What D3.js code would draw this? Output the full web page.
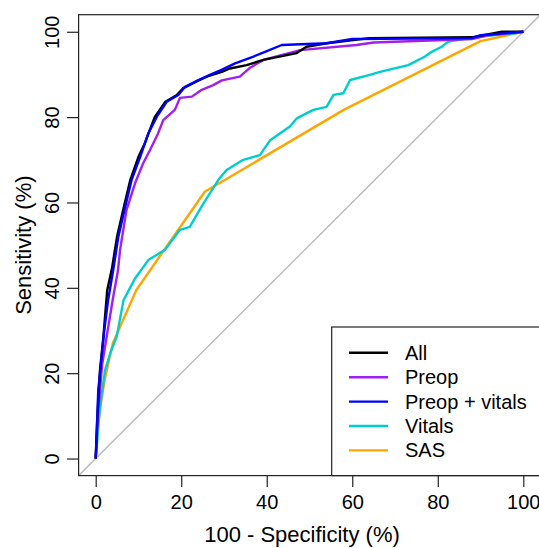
<!DOCTYPE html>
<html>
  <head>
    <meta charset="utf-8">
    <title></title>
    <style>
      body {
        margin: 0;
        background: #fff;
        font-family: "Liberation Sans", Arial, sans-serif;
      }
      svg {
        display: block;
      }
      .tick text, .legend text {
        font-size: 20px;
        fill: #000;
      }
      .lab {
        font-size: 22px;
        fill: #000;
      }
    </style>
  </head>
  <body>
    <div class="chart"></div>
    <script src="https://cdn.jsdelivr.net/npm/d3@7"></script>
    <script>

      // ROC curves, x = 100 - specificity, y = sensitivity
      let allX   = [0, 0.4, 1, 1.8, 2.7, 3.8, 5, 6.6, 8.1, 10, 11.5, 13.8, 16.3, 19, 20.5, 23.5, 26.5, 29.5, 31.4, 35.3, 39.2, 47, 49.3, 54, 64.1, 88, 95, 100];
      let allY   = [0, 10, 20.7, 28.5, 39.5, 44.5, 52, 59, 65.3, 70.7, 73.9, 80, 83.6, 85.2, 86.8, 88.3, 89.7, 90.6, 91.4, 92.2, 93.4, 95, 96.5, 97.3, 98.5, 98.7, 100, 100];

      let preopX = [0, 0.5, 1.5, 2.8, 4.1, 5.2, 5.7, 7.2, 9.2, 11.1, 12.7, 14.5, 15.8, 18.5, 19.7, 22.5, 24.8, 27.5, 29.5, 33.7, 36, 39.2, 47.8, 61, 65, 88, 92, 100];
      let preopY = [0, 10, 22, 30, 37.9, 44, 48.9, 58.2, 64.5, 69.2, 72.3, 76, 79.3, 81.7, 84.5, 84.8, 86.4, 87.5, 88.6, 89.5, 91.5, 93.4, 95.7, 96.9, 97.5, 98.3, 99.2, 100];

      let pvX    = [0, 0.6, 1.2, 2, 2.9, 4.1, 5.3, 6.9, 8.4, 10.4, 12.3, 14.3, 16.6, 19.3, 20.9, 24, 26.7, 29.3, 32.6, 36.9, 39.6, 43.5, 54, 60, 88, 90, 100];
      let pvY    = [0, 16, 22, 30, 37.1, 44.2, 52, 59, 65.3, 70.7, 76.2, 80.1, 83.6, 85.2, 87.1, 88.7, 89.9, 91, 92.6, 94.2, 95.3, 96.9, 97.3, 98.3, 98.5, 99.2, 100];

      let vitX   = [0, 1, 2.2, 3.5, 4.9, 6.5, 9.2, 12.3, 16.2, 19.7, 22, 25.2, 28.7, 30.6, 34.5, 38.4, 40.8, 45.4, 47, 50.9, 54, 55.6, 57.9, 59.5, 64.1, 66.5, 73.1, 77, 78.6, 80.9, 82.5, 89.5, 97.7, 100];
      let vitY   = [0, 12, 20.7, 25, 28.5, 37.1, 42.2, 46.5, 48.9, 53.6, 54.3, 59.8, 65.3, 67.6, 70, 71.1, 74.6, 77.8, 79.7, 81.7, 82.4, 85.2, 85.6, 88.7, 89.9, 90.6, 92.2, 94.2, 95.3, 96.5, 97.7, 98.9, 99.6, 100];

      let sasX   = [0, 0.5, 2, 4, 9.5, 25.5, 58, 90, 100];
      let sasY   = [0, 8, 18, 27, 39.5, 62.5, 81.7, 97.8, 100];

      let seriesNames  = ['All', 'Preop', 'Preop + vitals', 'Vitals', 'SAS'];
      let seriesColors = ['#000000', '#a020f0', '#0000ff', '#00cdcd', '#ffa500'];
      let ticks = [0, 20, 40, 60, 80, 100];

      let curves = [
        d3.zip(allX, allY),
        d3.zip(preopX, preopY),
        d3.zip(pvX, pvY),
        d3.zip(vitX, vitY),
        d3.zip(sasX, sasY)
      ];

      let elWidth = 539, elHeight = 548;
      let svg = d3.select('.chart').append('svg')
        .attr('width', elWidth)
        .attr('height', elHeight);

      // plot region (R style 4% padding around 0..100)
      let x = d3.scaleLinear().domain([-4, 104]).range([78.6, 540.4]);
      let y = d3.scaleLinear().domain([-4, 104]).range([475.6, 14.7]);

      // diagonal reference line
      svg.append('line')
        .attr('x1', x(-4)).attr('y1', y(-4))
        .attr('x2', x(104)).attr('y2', y(104))
        .attr('stroke', '#bebebe')
        .attr('stroke-width', 1.5);

      let line = d3.line()
        .x(d => x(d[0]))
        .y(d => y(d[1]));

      // draw order so "All" / blue sit on top like the reference
      let order = [4, 3, 1, 0, 2];
      order.forEach(i => {
        svg.append('path')
          .datum(curves[i])
          .attr('fill', 'none')
          .attr('stroke', seriesColors[i])
          .attr('stroke-width', 2.4)
          .attr('stroke-linejoin', 'round')
          .attr('d', line);
      });

      // box
      svg.append('rect')
        .attr('x', x(-4)).attr('y', y(104))
        .attr('width', x(104) - x(-4))
        .attr('height', y(-4) - y(104))
        .attr('fill', 'none')
        .attr('stroke', '#222')
        .attr('stroke-width', 1.2);

      let gx = svg.append('g')
        .attr('transform', 'translate(0,' + y(-4) + ')')
        .call(d3.axisBottom(x).tickValues(ticks).tickSize(11.5).tickPadding(8).tickFormat(d3.format('d')));
      gx.select('.domain').remove();
      gx.selectAll('.tick line').attr('stroke', '#222').attr('stroke-width', 1.2);
      gx.selectAll('.tick text').attr('font-family', null);

      let gy = svg.append('g')
        .attr('transform', 'translate(' + x(-4) + ',0)')
        .call(d3.axisLeft(y).tickValues(ticks).tickSize(11.5).tickFormat(d3.format('d')));
      gy.select('.domain').remove();
      gy.selectAll('.tick line').attr('stroke', '#222').attr('stroke-width', 1.2);
      gy.selectAll('.tick text')
        .attr('x', null).attr('dy', null)
        .attr('text-anchor', 'middle')
        .attr('transform', 'translate(-20,0) rotate(-90)')
        .attr('font-family', null);

      // axis titles
      svg.append('text')
        .attr('class', 'lab')
        .attr('x', 302)
        .attr('y', 542)
        .attr('text-anchor', 'middle')
        .text('100 - Specificity (%)');

      svg.append('text')
        .attr('class', 'lab')
        .attr('transform', 'translate(31,' + (y(-4) + y(104)) / 2 + ') rotate(-90)')
        .attr('text-anchor', 'middle')
        .text('Sensitivity (%)');

      // legend
      let legend = svg.append('g').attr('class', 'legend');
      legend.append('rect')
        .attr('x', 331.7).attr('y', 327)
        .attr('width', 240).attr('height', y(-4) - 327)
        .attr('fill', '#fff')
        .attr('stroke', '#222')
        .attr('stroke-width', 1.2);

      let rows = legend.selectAll('g.row')
        .data(seriesNames)
        .join('g')
        .attr('class', 'row')
        .attr('transform', (d, i) => 'translate(0,' + (352.8 + i * 24.4) + ')');

      rows.append('line')
        .attr('x1', 349).attr('x2', 388)
        .attr('stroke', (d, i) => seriesColors[i])
        .attr('stroke-width', 2.4);

      rows.append('text')
        .attr('x', 405)
        .attr('dy', '0.35em')
        .text(d => d);

    </script>
  </body>
</html>
